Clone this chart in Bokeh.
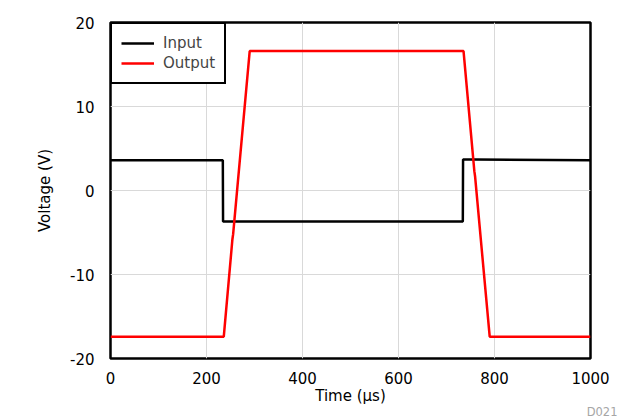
from bokeh.plotting import figure
from bokeh.models import Range1d, FixedTicker, Legend, LegendItem, Title
from bokeh.embed import file_html
from bokeh.resources import INLINE

# Data
input_time = [0, 234, 234.5, 734, 734.5, 760, 1000]
input_volt = [3.6, 3.6, -3.7, -3.7, 3.7, 3.7, 3.6]

output_time = [0, 236, 254, 255.5, 290, 735.5, 758, 759.5, 790, 1000]
output_volt = [-17.4, -17.4, -5.8, -5.2, 16.6, 16.6, 2.3, 1.7, -17.4, -17.4]

x_ticks = [0, 200, 400, 600, 800, 1000]
y_ticks = [-20, -10, 0, 10, 20]
y_tick_labels = {-20: "-20", -10: "-10", 0: "0", 10: "10", 20: "20"}

FONT = "DejaVu Sans"

p = figure(width=621, height=418, output_backend="svg", toolbar_location=None,
           x_range=Range1d(0, 1000), y_range=Range1d(-20, 20),
           min_border_left=110, min_border_right=31, min_border_top=22, min_border_bottom=59)

p.outline_line_color = "black"
p.outline_line_width = 2.5
p.outline_line_alpha = 1

for ax in (p.xaxis, p.yaxis):
    ax.axis_line_color = None
    ax.major_tick_line_color = None
    ax.minor_tick_line_color = None
    ax.major_label_text_font = FONT
    ax.major_label_text_font_size = "15px"
    ax.major_label_text_color = "black"
    ax.axis_label_text_font = FONT
    ax.axis_label_text_font_size = "15px"
    ax.axis_label_text_font_style = "normal"
    ax.axis_label_text_color = "black"

p.xaxis.ticker = FixedTicker(ticks=x_ticks)
p.yaxis.ticker = FixedTicker(ticks=y_ticks)
p.yaxis.major_label_overrides = y_tick_labels
p.xaxis.axis_label = "Time (\u00b5s)"
p.yaxis.axis_label = "Voltage (V)"
p.xaxis.major_label_standoff = 7
p.xaxis.axis_label_standoff = 0
p.yaxis.major_label_standoff = 10
p.yaxis.axis_label_standoff = 13

p.xgrid.ticker = FixedTicker(ticks=x_ticks)
p.ygrid.ticker = FixedTicker(ticks=y_ticks)
p.grid.grid_line_color = "#d9d9d9"
p.grid.grid_line_width = 1

r_in = p.line(input_time, input_volt, line_color="black", line_width=2.5)
r_out = p.line(output_time, output_volt, line_color="#ff0000", line_width=2.5)

legend = Legend(items=[LegendItem(label="Input", renderers=[r_in]),
                       LegendItem(label="Output", renderers=[r_out])],
                location="top_left", margin=0, padding=9, spacing=0,
                glyph_width=33, glyph_height=20, label_height=20, label_standoff=9,
                label_text_font=FONT, label_text_font_size="15px",
                border_line_color="black", border_line_width=2.5, border_line_alpha=1,
                background_fill_color="white", background_fill_alpha=1)
p.add_layout(legend)

p.add_layout(Title(text="D021", align="right", offset=-27, standoff=-5, vertical_align="top",
                   text_font=FONT, text_font_size="11.5px", text_font_style="normal",
                   text_color="#a6a6a6"), "below")

open("out.html", "w").write(file_html(p, INLINE))
